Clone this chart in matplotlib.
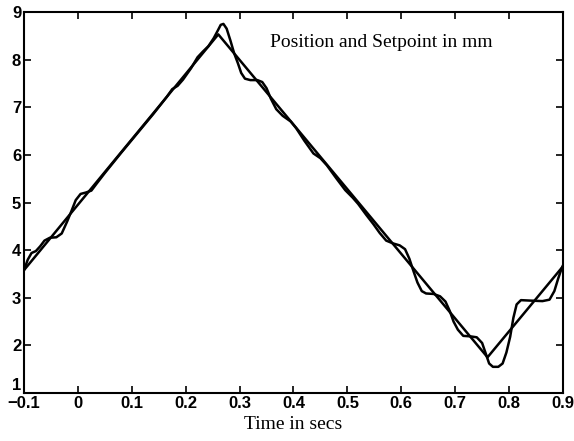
import matplotlib
matplotlib.use("Agg")
import matplotlib.pyplot as plt

# Setpoint (triangle) corners
set_t = [-0.100, 0.2605, 0.760, 0.900]
set_y = [3.58, 8.53, 1.75, 3.66]

pos_t = [-0.100, -0.093, -0.086, -0.078, -0.070, -0.062, -0.052, -0.040, -0.030, -0.020,
         -0.012, -0.004, 0.005, 0.015, 0.025, 0.035, 0.050, 0.080, 0.110, 0.140,
         0.165, 0.175, 0.185, 0.195, 0.210, 0.222, 0.232, 0.242, 0.252, 0.260,
         0.265, 0.270, 0.276, 0.283, 0.290, 0.297, 0.303, 0.310, 0.320, 0.333,
         0.342, 0.350, 0.358, 0.368, 0.380, 0.395, 0.405, 0.420, 0.437, 0.450,
         0.462, 0.480, 0.496, 0.510, 0.520, 0.535, 0.548, 0.560, 0.572, 0.585,
         0.597, 0.607, 0.615, 0.622, 0.630, 0.638, 0.646, 0.660, 0.672, 0.682,
         0.690, 0.697, 0.705, 0.715, 0.728, 0.740, 0.750, 0.757, 0.763, 0.770,
         0.780, 0.788, 0.795, 0.802, 0.808, 0.814, 0.822, 0.840, 0.862, 0.875,
         0.884, 0.891, 0.897, 0.900]
pos_y = [3.58, 3.80, 3.94, 3.98, 4.08, 4.20, 4.26, 4.27, 4.35, 4.60,
         4.82, 5.05, 5.18, 5.21, 5.25, 5.40, 5.62, 6.04, 6.45, 6.86,
         7.22, 7.38, 7.45, 7.58, 7.82, 8.05, 8.17, 8.28, 8.45, 8.62,
         8.73, 8.75, 8.65, 8.40, 8.13, 7.92, 7.72, 7.60, 7.57, 7.57,
         7.53, 7.40, 7.18, 6.96, 6.82, 6.70, 6.56, 6.30, 6.03, 5.93,
         5.78, 5.50, 5.26, 5.10, 4.97, 4.74, 4.55, 4.36, 4.20, 4.14,
         4.10, 4.02, 3.82, 3.58, 3.32, 3.14, 3.09, 3.08, 3.03, 2.92,
         2.72, 2.50, 2.33, 2.20, 2.19, 2.17, 2.05, 1.82, 1.62, 1.55,
         1.55, 1.62, 1.85, 2.18, 2.58, 2.86, 2.95, 2.94, 2.93, 2.96,
         3.14, 3.40, 3.60, 3.68]

xticks = [-0.1, 0, 0.1, 0.2, 0.3, 0.4, 0.5, 0.6, 0.7, 0.8, 0.9]
xtick_labels = ["\u22120.1", "0", "0.1", "0.2", "0.3", "0.4", "0.5", "0.6", "0.7", "0.8", "0.9"]
yticks = [1, 2, 3, 4, 5, 6, 7, 8, 9]

fig = plt.figure(figsize=(5.74, 4.41), dpi=100)
ax = fig.add_axes([0.0418, 0.1088, 0.9390, 0.8640])

ax.plot(set_t, set_y, color="black", lw=1.8)
ax.plot(pos_t, pos_y, color="black", lw=1.8)

ax.set_xlim(-0.1, 0.9)
ax.set_ylim(1, 9)

tick_font = dict(family=["Liberation Sans Narrow", "Liberation Sans", "DejaVu Sans"],
                 weight="bold", size=12)
ax.set_xticks(xticks)
ax.set_xticklabels(xtick_labels, **tick_font)
ax.set_yticks(yticks)
ylabels = ax.set_yticklabels([str(v) for v in yticks], **tick_font)
ylabels[0].set_verticalalignment("bottom")
ax.tick_params(direction="in", length=5, width=1.2, top=True, right=True, pad=2)

for s in ax.spines.values():
    s.set_linewidth(1.5)

serif = ["Liberation Serif", "DejaVu Serif"]
ax.set_xlabel("Time in secs", family=serif, size=14, labelpad=4)
ax.text(0.456, 0.919, "Position and Setpoint in mm", transform=ax.transAxes,
        family=serif, size=14, ha="left", va="center")

fig.savefig("out.png", dpi=100)
